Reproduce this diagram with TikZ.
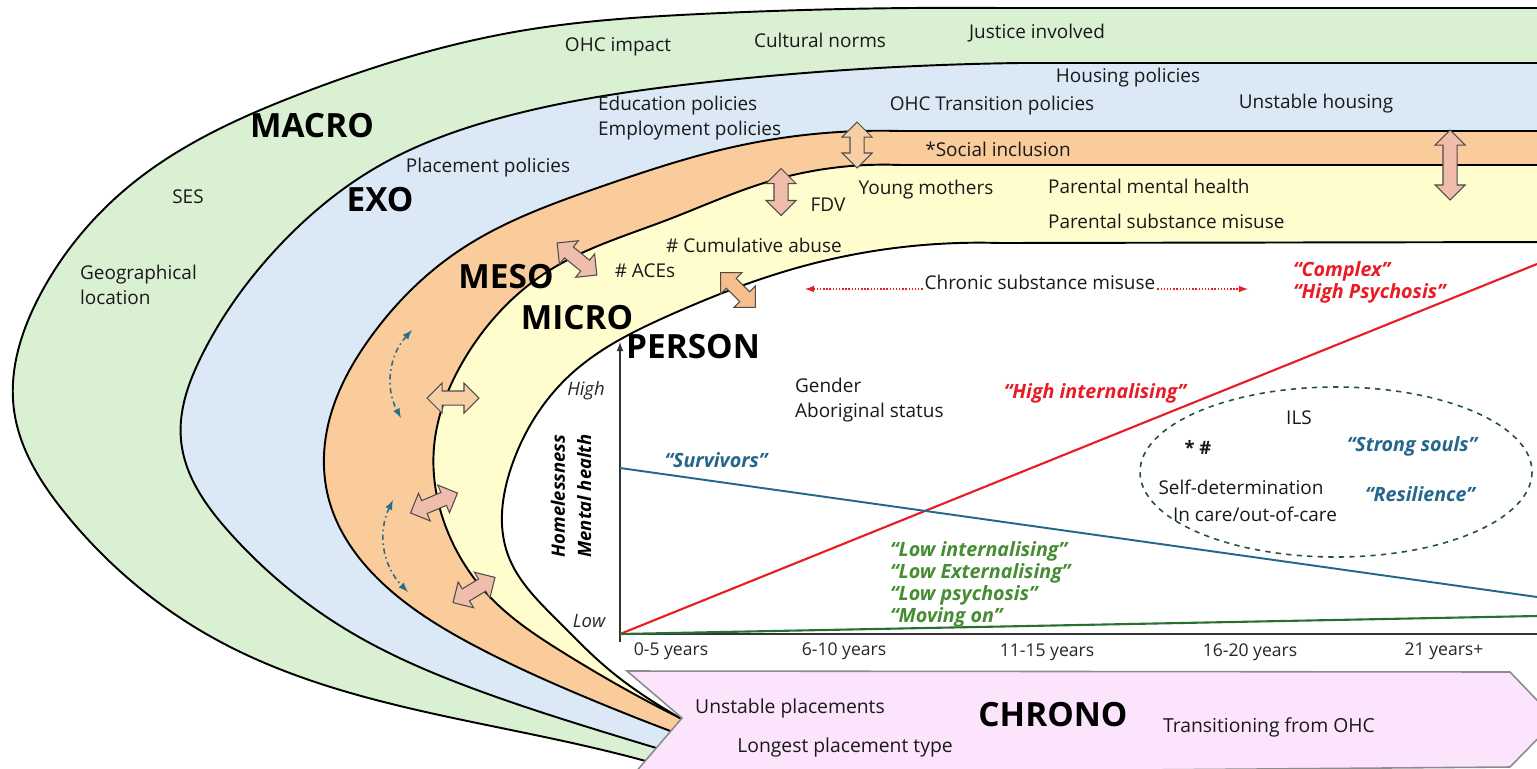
\documentclass[tikz,border=0pt]{standalone}
\usepackage{fontspec}
\setmainfont{Open Sans}
\usepackage{tikz}
\usetikzlibrary{shapes.geometric,arrows,shapes,positioning,calc,hobby}
\usepackage{xcolor}

\definecolor{macrogreen}{RGB}{218,240,210}
\definecolor{exoblue}{RGB}{219,232,245}
\definecolor{mesoorange}{RGB}{250,203,155}
\definecolor{microyellow}{RGB}{255,253,206}
\definecolor{chronopink}{RGB}{252,229,252}
\definecolor{linkpink}{RGB}{240,188,172}
\definecolor{linkpeach}{RGB}{248,206,165}
\definecolor{linkorange}{RGB}{245,190,140}
\definecolor{hired}{RGB}{232,28,36}
\definecolor{survblue}{RGB}{36,102,140}
\definecolor{lowgreen}{RGB}{70,140,50}
\definecolor{linegreen}{RGB}{40,112,45}
\definecolor{ringgreen}{RGB}{35,85,45}
\definecolor{flowteal}{RGB}{40,110,140}

\tikzset{
  lbl/.style={font=\fontsize{10.8}{14.2}\selectfont, text=black!90, inner sep=1pt},
  chronolbl/.style={font=\fontsize{11}{13}\selectfont, text=black!90, inner sep=1pt},
  bandname/.style={font=\bfseries\fontsize{19}{21}\selectfont, inner sep=0pt},
  quote/.style={font=\bfseries\itshape\fontsize{11.2}{12.5}\selectfont, inner sep=1pt},
  axislbl/.style={font=\itshape\fontsize{10.5}{12}\selectfont, text=black!85, inner sep=1pt},
  agelbl/.style={font=\fontsize{10}{12}\selectfont, text=black!85, inner sep=1pt},
  link/.style={double arrow, draw=black!70, line width=0.6pt, fill=linkpink,
    inner sep=0.13cm, double arrow head extend=0.16cm, minimum width=0cm, minimum height=#1},
  band/.style={line width=1.1pt, use Hobby shortcut},
  flow/.style={latex-latex, flowteal, line width=0.9pt, dash dot},
}

\begin{document}
\begin{tikzpicture}[x=0.02cm, y=-0.02cm]
\useasboundingbox (0,0) rectangle (1537,768);
\clip (0,0) rectangle (1537,768);

\filldraw[band, fill=macrogreen] (1560,8) -- (1000,8) .. (700,14) .. (520,31) .. (300,94) .. (133,183) .. (40,295) .. (14,410) .. (65,513) .. (217,640) .. (477,723) .. (642,760) .. (680,771) -- (720,800) -- (1560,800) -- cycle;
\filldraw[band, fill=exoblue] (1560,63) -- (1020,63) .. (700,83) .. (500,118) .. (377,167) .. (280,245) .. (202,355) .. (181,440) .. (230,533) .. (347,630) .. (477,690) .. (607,733) .. (690,758) -- (720,800) -- (1560,800) -- cycle;
\filldraw[band, fill=mesoorange] (1560,131) -- (900,131) .. (733,147) .. (600,187) .. (460,250) .. (370,338) .. (327,430) .. (329,500) .. (390,590) .. (477,647) .. (585,697) .. (700,742) -- (720,800) -- (1560,800) -- cycle;
\filldraw[band, fill=microyellow] (1560,165) -- (900,165) .. (767,182) .. (667,220) .. (550,270) .. (465,358) .. (434,447) .. (447,530) .. (490,597) .. (564,653) .. (680,718) .. (705,730) -- (720,800) -- (1560,800) -- cycle;
\filldraw[band, fill=white] (1560,242) -- (1000,243) .. (800,267) .. (670,315) .. (570,375) .. (512,465) .. (508,555) .. (557,620) .. (607,668) .. (680,718) .. (705,732) -- (720,800) -- (1560,800) -- cycle;

\filldraw[fill=chronopink, draw=black!45, line width=0.9pt] (627,671) -- (1510,672) -- (1556,720) -- (1510,767) -- (634,774) -- (682,718) -- cycle;

\coordinate (origin) at (620,634);
\coordinate (ybase) at (620,642);
\coordinate (ytip) at (620,342);
\coordinate (xend) at (1537,634);
\coordinate (redend) at (1537,264);
\coordinate (bluestart) at (620,468);
\coordinate (blueend) at (1537,597);
\coordinate (greenend) at (1537,616);
\draw[line width=0.8pt, black!80, -latex] (ybase) -- (ytip);
\draw[line width=0.8pt, black!80] (origin) -- (xend);
\draw[hired, line width=1.2pt] (origin) -- (redend);
\draw[survblue, line width=1.1pt] (bluestart) -- (blueend);
\draw[linegreen, line width=1.2pt] (origin) -- (greenend);
\draw[ringgreen, dashed, line width=0.9pt] (1336,472) ellipse [x radius=196, y radius=85];

\node (link1) [link=0.92cm, fill=linkpeach, rotate=90] at (857,145) {};
\node (link2) [link=0.94cm, rotate=90] at (781,192) {};
\node (link3) [link=1.02cm, rotate=-39] at (577,259) {};
\node (link4) [link=0.98cm, fill=linkorange, rotate=-45] at (738,290) {};
\node (link5) [link=1.04cm, fill=linkpeach] at (453,398) {};
\node (link6) [link=1.02cm, rotate=23] at (434,503) {};
\node (link7) [link=0.98cm, rotate=31] at (474,590) {};
\node (link8) [link=1.4cm, rotate=90] at (1450,165) {};

\coordinate (flow1a) at (412,330);
\coordinate (flow1b) at (401,418);
\coordinate (flow2a) at (393,500);
\coordinate (flow2b) at (408,592);
\draw[flow] (flow1a) to[bend right=35] (flow1b);
\draw[flow] (flow2a) to[bend right=35] (flow2b);

\node (ohcimpact) [lbl] at (618,47) {OHC impact};
\node (culture) [lbl] at (820,40) {Cultural norms};
\node (justice) [lbl] at (1037,33) {Justice involved};
\node (ses) [lbl] at (188,197) {SES};
\node (geo) [lbl, anchor=west, align=left] at (78,285) {Geographical\\location};

\node (housing) [lbl] at (1128,78) {Housing policies};
\node (eduemp) [lbl, anchor=west, align=left] at (596,118) {Education policies\\Employment policies};
\node (ohctrans) [lbl] at (992,106) {OHC Transition policies};
\node (unhousing) [lbl] at (1316,104) {Unstable housing};
\node (placement) [lbl] at (488,168) {Placement policies};

\node (social) [lbl] at (998,149) {*Social inclusion};

\node (mothers) [lbl] at (926,190) {Young mothers};
\node (fdv) [lbl] at (828,205) {FDV};
\node (parentmh) [lbl, anchor=west] at (1046,186) {Parental mental health};
\node (parentsub) [lbl, anchor=west] at (1046,221) {Parental substance misuse};
\node (cumabuse) [lbl] at (754,245) {\# Cumulative abuse};
\node (aces) [lbl] at (645,271) {\# ACEs};

\node (chronic) [lbl, anchor=base] at (1040,289) {Chronic substance misuse};
\coordinate (chronicL) at (805,289);
\coordinate (chronicR) at (1248,289);
\draw[hired, densely dotted, line width=0.8pt, -latex] (chronic.base west) -- (chronicL);
\draw[hired, densely dotted, line width=0.8pt, -latex] (chronic.base east) -- (chronicR);
\node (complex) [quote, text=hired, anchor=west, align=left] at (1291,282) {“Complex”\\“High Psychosis”};

\node (gender) [lbl, anchor=west, align=left] at (793,400) {Gender\\Aboriginal status};
\node (highint) [quote, text=hired] at (1095,393) {“High internalising”};
\node (survivors) [quote, text=survblue] at (716,460) {“Survivors”};
\node (lowgroup) [quote, text=lowgreen, anchor=west, align=left] at (888,584) {“Low internalising”\\“Low Externalising”\\“Low psychosis”\\“Moving on”};
\node (ils) [lbl] at (1299,418) {ILS};
\node (marks) [lbl, font=\bfseries\fontsize{10.5}{12}\selectfont] at (1198,447) {* \#};
\node (selfdet) [lbl] at (1241,487) {Self-determination};
\node (incare) [lbl] at (1255,514) {In care/out-of-care};
\node (strong) [quote, text=survblue] at (1412,446) {“Strong souls”};
\node (resil) [quote, text=survblue] at (1420,494) {“Resilience”};

\node (high) [axislbl] at (586,391) {High};
\node (low) [axislbl] at (589,621) {Low};
\node (yaxis) [rotate=90, align=center, font=\bfseries\itshape\fontsize{10.5}{15}\selectfont] at (571,496) {Homelessness\\Mental health};
\node (age1) [agelbl] at (671,651) {0-5 years};
\node (age2) [agelbl] at (844,651) {6-10 years};
\node (age3) [agelbl] at (1047,652) {11-15 years};
\node (age4) [agelbl] at (1250,652) {16-20 years};
\node (age5) [agelbl] at (1444,651) {21 years+};

\node (unplace) [chronolbl] at (790,708) {Unstable placements};
\node (longest) [chronolbl] at (845,747) {Longest placement type};
\node (transition) [chronolbl] at (1269,727) {Transitioning from OHC};

\node (macro) [bandname] at (312,126) {MACRO};
\node (exo) [bandname] at (380,200) {EXO};
\node (meso) [bandname] at (506,277) {MESO};
\node (micro) [bandname] at (577,318) {MICRO};
\node (person) [bandname] at (693,347) {PERSON};
\node (chrono) [bandname] at (1053,715) {CHRONO};
\end{tikzpicture}
\end{document}
